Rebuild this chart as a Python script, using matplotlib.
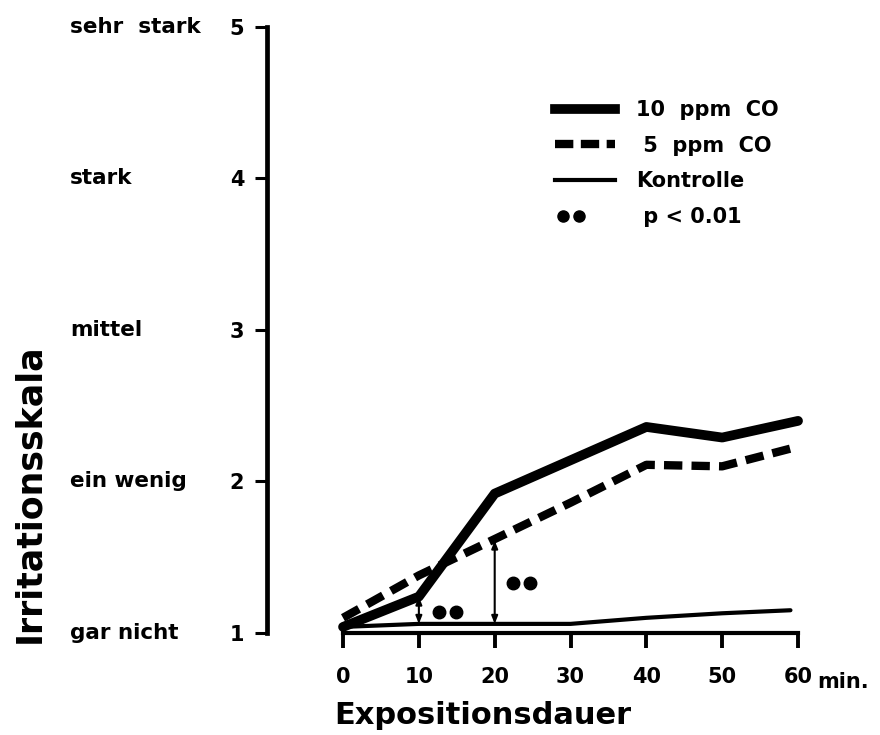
import matplotlib
matplotlib.use('Agg')

import numpy as np
import matplotlib.pyplot as plt
import matplotlib.transforms as mtransforms
from matplotlib.lines import Line2D
from matplotlib.legend_handler import HandlerLine2D

# Expositionsdauer (min) und Irritationswerte
minutes = [0, 10, 20, 30, 40, 50, 60]
co10 = [1.04, 1.24, 1.92, 2.14, 2.36, 2.29, 2.40]
co5 = [1.10, 1.38, 1.62, 1.86, 2.11, 2.10, 2.23]
control_x = [0, 10, 20, 30, 40, 50, 59]
control = [1.04, 1.06, 1.06, 1.06, 1.10, 1.13, 1.15]

# signifikante Unterschiede (p < 0.01)
sig_x = [10, 20]
sig_low = [1.06, 1.06]
sig_high = [1.24, 1.61]
sig_dot_x = [[12.7, 14.9], [22.4, 24.6]]
sig_dot_y = [1.14, 1.33]

y_ticks = [1, 2, 3, 4, 5]
y_names = ['gar nicht', 'ein wenig', 'mittel', 'stark', 'sehr  stark']
x_ticks = [0, 10, 20, 30, 40, 50, 60]

FONT = 'DejaVu Sans'


class DotsHandler(HandlerLine2D):
    # die beiden Punkte sitzen links im Legendenfeld
    def get_xdata(self, legend, xdescent, ydescent, width, height, fontsize):
        xd = np.array([-xdescent + 0.13 * width, -xdescent + 0.4 * width])
        return xd, xd


fig = plt.figure(figsize=(8.8, 7.35), dpi=100)
ax = fig.add_axes([0.2864, 0.1182, 0.6377, 0.8657])
ax.set_xlim(-12, 62)
ax.set_ylim(0.9, 5.1)

ax.plot(minutes, co10, color='black', lw=7, solid_joinstyle='round', solid_capstyle='round')
ax.plot(minutes, co5, color='black', lw=6, dashes=(2.2, 1.1), dash_capstyle='butt')
ax.plot(control_x, control, color='black', lw=3, solid_capstyle='round')

for x, lo, hi in zip(sig_x, sig_low, sig_high):
    ax.annotate('', xy=(x, hi), xytext=(x, lo),
                arrowprops=dict(arrowstyle='<|-|>,head_length=0.45,head_width=0.18',
                                color='black', lw=1.5, shrinkA=0, shrinkB=0))
for xs, y in zip(sig_dot_x, sig_dot_y):
    ax.plot(xs, [y, y], 'o', color='black', ms=9, ls='none')

# Achsen
for s in ['top', 'right']:
    ax.spines[s].set_visible(False)
ax.spines['left'].set_position(('data', -10))
ax.spines['left'].set_bounds(1, 5)
ax.spines['left'].set_linewidth(3.4)
ax.spines['bottom'].set_position(('data', 1.0))
ax.spines['bottom'].set_bounds(0, 60)
ax.spines['bottom'].set_linewidth(3.0)

ax.set_yticks(y_ticks)
ax.set_yticklabels([str(v) for v in y_ticks], fontsize=15, fontweight='bold', family=FONT)
ax.tick_params(axis='y', length=8.5, width=2.2, pad=8, direction='out')
ax.set_xticks(x_ticks)
ax.set_xticklabels([str(v) for v in x_ticks], fontsize=15, fontweight='bold', family=FONT)
ax.tick_params(axis='x', length=10.5, width=2.8, pad=14, direction='out')

trans = mtransforms.blended_transform_factory(fig.transFigure, ax.transData)
for v, name in zip(y_ticks, y_names):
    ax.text(70 / 880, v, name, transform=trans, ha='left', va='center',
            fontsize=15.5, fontweight='bold', family=FONT)

ax.annotate('min.', xy=(60, 1.0), xycoords='data', xytext=(14, -35),
            textcoords='offset points', ha='left', va='center',
            fontsize=15, fontweight='bold', family=FONT)

fig.text(29 / 880, 1 - 493 / 735, 'Irritationsskala', rotation=90, ha='center', va='center',
         fontsize=25, fontweight='bold', family=FONT)
fig.text(483 / 880, 1 - 715 / 735, 'Expositionsdauer', ha='center', va='center',
         fontsize=22, fontweight='bold', family=FONT)

# Legende
handles = [
    Line2D([], [], color='black', lw=7),
    Line2D([], [], color='black', lw=6, dashes=(2.2, 0.9)),
    Line2D([], [], color='black', lw=3),
    Line2D([], [], color='black', marker='o', ms=8, ls='none'),
]
labels = ['10  ppm  CO', ' 5  ppm  CO', 'Kontrolle', ' p < 0.01']
leg = fig.legend(handles, labels, loc='upper left', bbox_to_anchor=(555 / 880, 1 - 100 / 735),
                 frameon=False, borderpad=0, borderaxespad=0, handlelength=2.9,
                 handletextpad=1.0, labelspacing=0.75,
                 prop=dict(size=15, weight='bold', family=FONT),
                 handler_map={handles[3]: DotsHandler(numpoints=2)})

fig.savefig('out.png', dpi=100, facecolor='white')
